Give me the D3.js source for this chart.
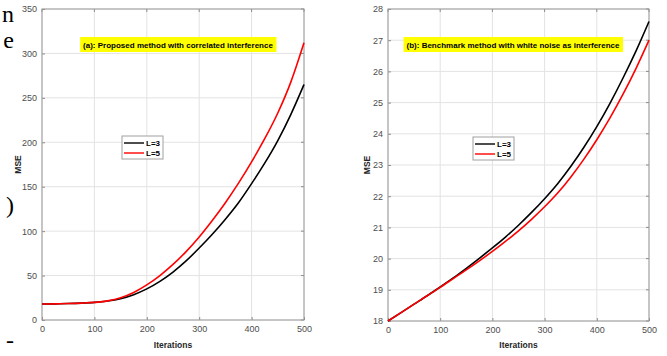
<!DOCTYPE html>
<html>
<head>
<meta charset="utf-8">
<script src="https://cdn.jsdelivr.net/npm/d3@7"></script>
<style>
  body { margin: 0; background: #fff; }
  svg text { font-family: "Liberation Sans", Arial, sans-serif; }
  .tick text { fill: #4d4d4d; font-size: 9px; }
</style>
</head>
<body>
<div id="chart"></div>
<script>
// iterations sampled every 25
const iters = d3.range(0, 501, 25);

// panel (a): proposed method, correlated interference
const aL3 = [18.0, 18.2, 18.5, 19.0, 19.8, 21.3, 24.0, 28.5, 35, 43.5, 54, 66.5, 81, 96.5, 113.5, 132, 153.5, 176.5, 202, 231.5, 265];
const aL5 = [18.0, 18.2, 18.5, 19.0, 19.8, 21.5, 25, 31, 39.5, 50, 62.5, 77, 93.5, 112, 132, 154, 178, 204, 233, 268, 312];

// panel (b): benchmark, white noise
const bL3 = [18.00, 18.27, 18.54, 18.81, 19.09, 19.38, 19.69, 20.01, 20.34, 20.69, 21.07, 21.48, 21.92, 22.40, 22.95, 23.56, 24.23, 24.97, 25.78, 26.65, 27.60];
const bL5 = [18.00, 18.27, 18.54, 18.81, 19.08, 19.36, 19.64, 19.93, 20.23, 20.55, 20.89, 21.26, 21.66, 22.10, 22.61, 23.18, 23.81, 24.50, 25.26, 26.09, 27.00];

const xTicks = [0, 100, 200, 300, 400, 500];
const aYTicks = [0, 50, 100, 150, 200, 250, 300, 350];
const bYTicks = [18, 19, 20, 21, 22, 23, 24, 25, 26, 27, 28];
const legendLabels = ["L=3", "L=5"];
const colors = ["#000000", "#ff0000"];

const svg = d3.select("#chart").append("svg")
    .attr("width", 667)
    .attr("height", 356);

// bits of the surrounding document text cut off at the left
const serif = [["n", 22], ["e", 48], [")", 213], ["-", 348]];
svg.selectAll(".doc").data(serif).enter().append("text")
    .attr("x", 14).attr("y", d => d[1])
    .attr("text-anchor", "end")
    .style("font-family", "'Liberation Serif', 'Times New Roman', serif")
    .style("font-size", "24px")
    .text(d => d[0]);

function panel(opt) {
    const x = d3.scaleLinear().domain([0, 500]).range([opt.x0, opt.x1]);
    const y = d3.scaleLinear().domain(opt.yDomain).range([opt.y0, opt.y1]);
    const g = svg.append("g");

    // grid
    g.selectAll(".gx").data(xTicks).enter().append("line")
        .attr("x1", d => x(d)).attr("x2", d => x(d))
        .attr("y1", opt.y0).attr("y2", opt.y1)
        .attr("stroke", "#e3e3e3").attr("stroke-width", 1);
    g.selectAll(".gy").data(opt.yTicks).enter().append("line")
        .attr("x1", opt.x0).attr("x2", opt.x1)
        .attr("y1", d => y(d)).attr("y2", d => y(d))
        .attr("stroke", "#e3e3e3").attr("stroke-width", 1);

    // axes
    const ax = g.append("g").attr("transform", `translate(0,${opt.y0})`)
        .call(d3.axisBottom(x).tickValues(xTicks).tickSizeInner(-3).tickSizeOuter(0).tickPadding(6));
    const ay = g.append("g").attr("transform", `translate(${opt.x0},0)`)
        .call(d3.axisLeft(y).tickValues(opt.yTicks).tickSizeInner(-3).tickSizeOuter(0).tickPadding(5));
    [ax, ay].forEach(a => {
        a.select(".domain").remove();
        a.selectAll("line").attr("stroke", "#8c8c8c");
    });
    // top/right ticks
    g.selectAll(".tt").data(xTicks).enter().append("line")
        .attr("x1", d => x(d)).attr("x2", d => x(d))
        .attr("y1", opt.y1).attr("y2", opt.y1 + 3).attr("stroke", "#8c8c8c");
    g.selectAll(".tr").data(opt.yTicks).enter().append("line")
        .attr("x1", opt.x1).attr("x2", opt.x1 - 3)
        .attr("y1", d => y(d)).attr("y2", d => y(d)).attr("stroke", "#8c8c8c");

    g.append("rect")
        .attr("x", opt.x0).attr("y", opt.y1)
        .attr("width", opt.x1 - opt.x0).attr("height", opt.y0 - opt.y1)
        .attr("fill", "none").attr("stroke", "#9a9a9a").attr("stroke-width", 1);

    // curves
    const line = d3.line().x((d, i) => x(iters[i])).y(d => y(d)).curve(d3.curveMonotoneX);
    opt.series.forEach((s, k) => {
        g.append("path").datum(s)
            .attr("d", line)
            .attr("fill", "none")
            .attr("stroke", colors[k])
            .attr("stroke-width", 1.6);
    });

    // labels
    g.append("text")
        .attr("x", (opt.x0 + opt.x1) / 2).attr("y", 348)
        .attr("text-anchor", "middle")
        .style("font-size", "8.5px").style("font-weight", "bold").attr("fill", "#262626")
        .text("Iterations");
    g.append("text")
        .attr("transform", `translate(${opt.msex},${(opt.y0 + opt.y1) / 2}) rotate(-90)`)
        .attr("text-anchor", "middle")
        .style("font-size", "8.5px").style("font-weight", "bold").attr("fill", "#262626")
        .text("MSE");

    // yellow title box
    const t = g.append("g");
    const tt = t.append("text")
        .attr("x", opt.tx).attr("y", 48)
        .attr("text-anchor", "middle")
        .style("font-size", "8px").style("font-weight", "bold")
        .text(opt.title);
    const bb = tt.node().getBBox();
    t.insert("rect", "text")
        .attr("x", bb.x - 3).attr("y", 37)
        .attr("width", bb.width + 6).attr("height", 15)
        .attr("fill", "#ffff00");

    // legend
    const lg = g.append("g").attr("transform", `translate(${opt.lx},${opt.ly})`);
    lg.append("rect")
        .attr("width", 41).attr("height", 23)
        .attr("fill", "#ffffff").attr("stroke", "#a0a0a0");
    legendLabels.forEach((lab, k) => {
        lg.append("line")
            .attr("x1", 2).attr("x2", 22)
            .attr("y1", 7 + k * 10).attr("y2", 7 + k * 10)
            .attr("stroke", colors[k]).attr("stroke-width", 1.4);
        lg.append("text")
            .attr("x", 24).attr("y", 10 + k * 10)
            .style("font-size", "8px").style("font-weight", "bold")
            .text(lab);
    });
}

panel({
    x0: 42, x1: 304, y0: 320, y1: 9,
    yDomain: [0, 350], yTicks: aYTicks,
    series: [aL3, aL5],
    title: "(a): Proposed method with correlated interference",
    tx: 178, lx: 122, ly: 136, msex: 21
});

panel({
    x0: 388, x1: 649, y0: 321, y1: 9,
    yDomain: [18, 28], yTicks: bYTicks,
    series: [bL3, bL5],
    title: "(b): Benchmark method with white noise as interference",
    tx: 513, lx: 473, ly: 137, msex: 370
});
</script>
</body>
</html>
